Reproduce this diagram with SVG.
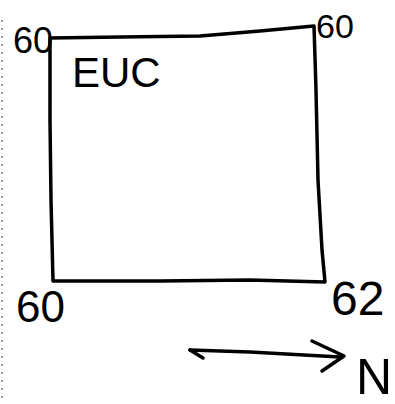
<svg xmlns="http://www.w3.org/2000/svg" width="395" height="404" viewBox="0 0 395 404">
<style>
.ln{fill:none;stroke:#000;stroke-width:3.5;stroke-linecap:round;stroke-linejoin:round}
.t{font-family:"Liberation Sans",Arial,sans-serif;fill:#000}
</style>
<rect width="395" height="404" fill="#fff"/>
<line x1="2" y1="20" x2="2" y2="400" stroke="#555" stroke-width="1.2" stroke-dasharray="2 6"/>
<g id="box">
<path class="ln" d="M50,38 L120,37 L200,36 L260,31 L314,26 L316,90 L318,180 L322,250 L325,282 L250,280 L160,281 L53,281 L51,200 L50,120 L50,38"/>
</g>
<g id="label-tl"><text class="t" x="13" y="53" font-size="36">60</text></g>
<g id="label-tr"><text class="t" x="316" y="38" font-size="34">60</text></g>
<g id="label-euc"><text class="t" x="72" y="87" font-size="42">EUC</text></g>
<g id="label-bl"><text class="t" x="16" y="322" font-size="44">60</text></g>
<g id="label-br"><text class="t" x="331" y="315" font-size="48">62</text></g>
<g id="connectors">
<path class="ln" d="M190,350 L250,352 L340,357"/>
<path class="ln" d="M190,350 L203,358"/>
<path class="ln" d="M312,341 L344,356 L322,371"/>
</g>
<g id="label-n"><text class="t" x="356" y="394" font-size="50">N</text></g>
</svg>
